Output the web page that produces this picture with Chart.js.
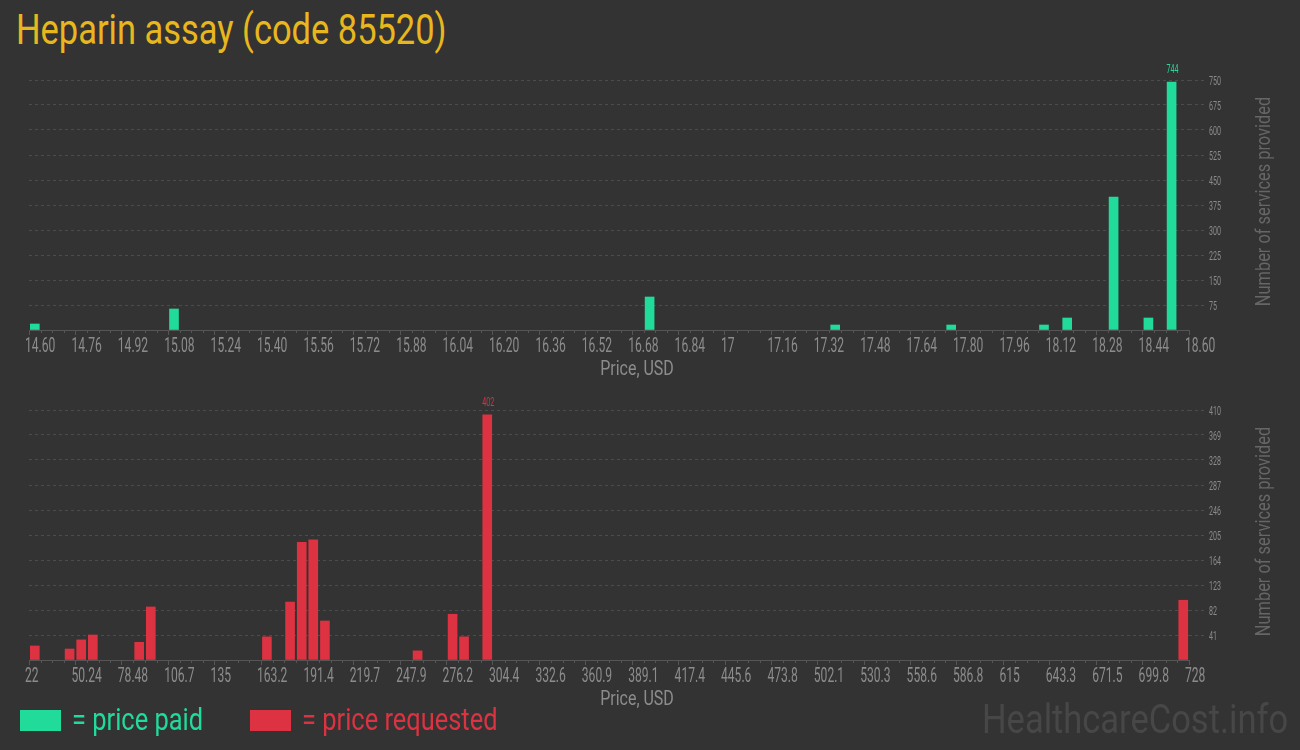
<!DOCTYPE html>
<html>
<head>
<meta charset="utf-8">
<title>Heparin assay (code 85520)</title>
<script src="https://cdn.jsdelivr.net/npm/chart.js@4.4.0/dist/chart.umd.min.js"></script>
<style>
  body { margin: 0; background: #333333; width: 1300px; height: 750px; overflow: hidden; position: relative; font-family: Roboto, sans-serif; }
  .box { position: absolute; left: 0; width: 1300px; height: 320px; }
  #boxPaid { top: 60px; }
  #boxRequested { top: 390px; }
  .cond { position: absolute; white-space: nowrap; line-height: 1; transform-origin: 0 0; transform: scaleX(0.82); }
  #title { left: 16px; top: 9px; font-size: 42px; color: #e8b71e; }
  .swatch { position: absolute; top: 710px; width: 41px; height: 21px; }
  .legtext { top: 704px; font-size: 31px; }
  #watermark { left: 982px; top: 700px; font-size: 40px; color: #474747; transform: scaleX(0.862); }
</style>
</head>
<body>
<div id="title" class="cond">Heparin assay (code 85520)</div>
<div class="box" id="boxPaid"><canvas id="chartPaid" width="1300" height="320"></canvas></div>
<div class="box" id="boxRequested"><canvas id="chartRequested" width="1300" height="320"></canvas></div>
<div class="swatch" style="left:20px;background:#21db9b"></div>
<div class="cond legtext" style="left:72px;color:#21db9b">= price paid</div>
<div class="swatch" style="left:250px;background:#dc3241"></div>
<div class="cond legtext" style="left:302px;color:#dc3241">= price requested</div>
<div id="watermark" class="cond">HealthcareCost.info</div>
<script>
// price paid histogram (bin centres, USD) and counts
const paidPrices = [14.62, 15.10, 16.74, 17.38, 17.78, 18.10, 18.18, 18.34, 18.46, 18.54];
const paidCounts = [18, 63, 99, 15, 15, 15, 36, 399, 36, 744];
const paidXTicks = ['14.60', '14.76', '14.92', '15.08', '15.24', '15.40', '15.56', '15.72', '15.88', '16.04',
  '16.20', '16.36', '16.52', '16.68', '16.84', '17', '17.16', '17.32', '17.48', '17.64', '17.80', '17.96',
  '18.12', '18.28', '18.44', '18.60'];
const paidYTicks = [75, 150, 225, 300, 375, 450, 525, 600, 675, 750];

// price requested histogram
const requestedPrices = [25.53, 46.71, 53.77, 60.83, 89.07, 96.13, 166.8, 180.9, 188.0, 195.0, 202.1, 258.5, 279.8, 286.8, 300.9, 724.5];
const requestedCounts = [23, 18, 33, 41, 29, 87, 38, 95, 193, 197, 64, 15, 75, 38, 402, 98];
const requestedXTicks = ['22', '50.24', '78.48', '106.7', '135', '163.2', '191.4', '219.7', '247.9', '276.2',
  '304.4', '332.6', '360.9', '389.1', '417.4', '445.6', '473.8', '502.1', '530.3', '558.6', '586.8', '615',
  '643.3', '671.5', '699.8', '728'];
const requestedYTicks = [41, 82, 123, 164, 205, 246, 287, 328, 369, 410];

const GREEN = '#21db9b';
const RED = '#dc3241';
const GRID = '#4c4c4c';

// condensed text: the original uses a narrow face, so squeeze Roboto horizontally
function condText(ctx, text, x, y, opt) {
  ctx.save();
  ctx.translate(x, y);
  if (opt.rotate) ctx.rotate(opt.rotate);
  ctx.scale(opt.sx, 1);
  ctx.font = opt.font;
  ctx.fillStyle = opt.color;
  ctx.textAlign = opt.align || 'left';
  ctx.textBaseline = 'alphabetic';
  ctx.fillText(text, 0, 0);
  ctx.restore();
}

const overlay = {
  id: 'overlay',
  afterDraw(chart, args, o) {
    const ctx = chart.ctx;
    const area = chart.chartArea;
    const x = chart.scales.x;
    const y = chart.scales.y;

    // minor ticks, 4 bins per labelled step
    const step = x.ticks[1].value - x.ticks[0].value;
    ctx.save();
    ctx.strokeStyle = '#555';
    ctx.lineWidth = 1;
    ctx.beginPath();
    for (let i = 0; i < x.ticks.length - 1; i++) {
      for (let k = 1; k < 4; k++) {
        const px = Math.round(x.getPixelForValue(x.ticks[i].value + step * k / 4)) + 0.5;
        ctx.moveTo(px, area.bottom);
        ctx.lineTo(px, area.bottom + 3);
      }
    }
    ctx.stroke();
    ctx.restore();

    // x tick labels
    x.ticks.forEach((t, i) => {
      const px = x.getPixelForValue(t.value);
      condText(ctx, o.xLabels[i], px - 4, area.bottom + 22, { sx: 0.62, font: '19.5px Roboto', color: '#8c8c8c' });
    });

    // y tick labels
    o.yLabels.forEach(v => {
      const py = y.getPixelForValue(v);
      condText(ctx, String(v), area.right + 20, py + 4.5, { sx: 0.56, font: '12.7px Roboto', color: '#8a8a8a' });
    });

    // axis titles
    condText(ctx, 'Price, USD', chart.width / 2 - 13, area.bottom + 45,
      { sx: 0.82, font: '19.5px Roboto', color: '#8c8c8c', align: 'center' });
    condText(ctx, 'Number of services provided', area.right + 81, (area.top + area.bottom) / 2 - 3.5,
      { sx: 0.82, font: '20px Roboto', color: '#666', align: 'center', rotate: -Math.PI / 2 });

    // value of the tallest bar
    const ds = chart.data.datasets[0];
    const meta = chart.getDatasetMeta(0);
    let best = 0;
    ds.data.forEach((d, i) => { if (d.y > ds.data[best].y) best = i; });
    const bar = meta.data[best];
    condText(ctx, String(ds.data[best].y), bar.x + 1, bar.y - 9,
      { sx: 0.56, font: '12.7px Roboto', color: ds.backgroundColor, align: 'center' });
  }
};

function makeHistogram(canvasId, prices, counts, xTicks, yTicks, color) {
  const xMin = parseFloat(xTicks[0]);
  const xMax = parseFloat(xTicks[xTicks.length - 1]);
  const gridColor = c => (c.tick && c.tick.value === 0 ? 'rgba(0,0,0,0)' : GRID);
  return new Chart(document.getElementById(canvasId), {
    type: 'bar',
    data: {
      datasets: [{
        data: prices.map((p, i) => ({ x: p, y: counts[i] })),
        backgroundColor: color,
        borderWidth: 0,
        barThickness: 9
      }]
    },
    options: {
      responsive: false,
      animation: false,
      devicePixelRatio: 1,
      layout: { padding: { left: 29, top: 20, right: 0, bottom: 0 } },
      plugins: {
        legend: { display: false },
        tooltip: { enabled: false },
        overlay: { xLabels: xTicks, yLabels: yTicks }
      },
      scales: {
        x: {
          type: 'linear',
          min: xMin,
          max: xMax,
          offset: false,
          ticks: { stepSize: (xMax - xMin) / (xTicks.length - 1), display: false, autoSkip: false },
          grid: { drawOnChartArea: false, drawTicks: true, tickLength: 5, tickColor: '#555', offset: false },
          border: { display: true, color: '#555', width: 1 },
          afterFit: s => { s.height = 50; }
        },
        y: {
          position: 'right',
          min: 0,
          max: yTicks[yTicks.length - 1],
          ticks: { stepSize: yTicks[0], display: false },
          grid: { color: gridColor, tickColor: gridColor, tickLength: 15, tickBorderDash: [3, 3], lineWidth: 1 },
          border: { display: false, dash: [3, 3] },
          afterFit: s => { s.width = 111; }
        }
      }
    },
    plugins: [overlay]
  });
}

makeHistogram('chartPaid', paidPrices, paidCounts, paidXTicks, paidYTicks, GREEN);
makeHistogram('chartRequested', requestedPrices, requestedCounts, requestedXTicks, requestedYTicks, RED);
</script>
</body>
</html>
